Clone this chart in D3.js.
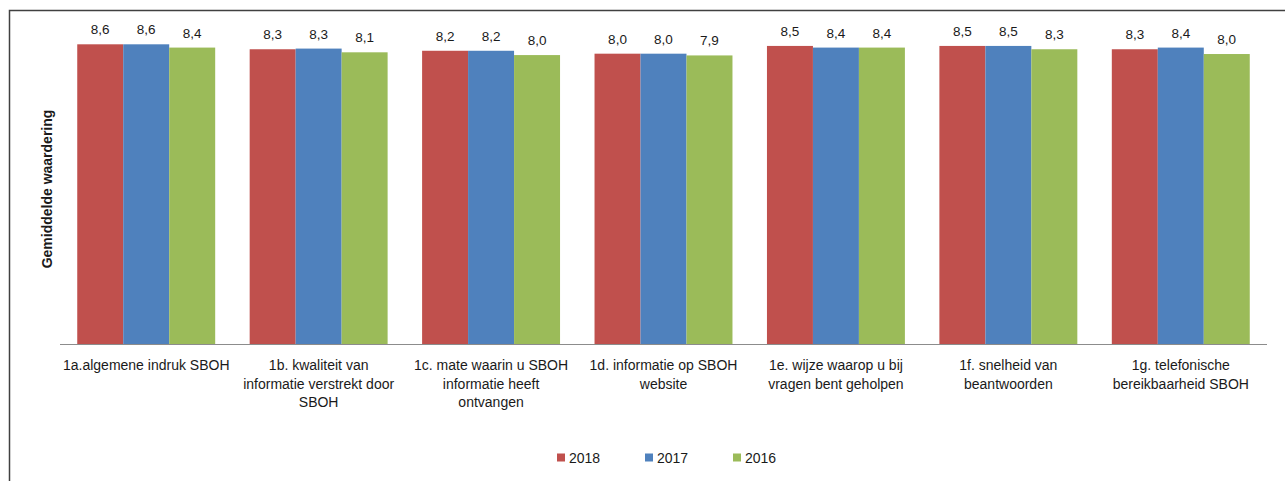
<!DOCTYPE html>
<html>
<head>
    <meta charset="utf-8">
    <title>Gemiddelde waardering</title>
    <script src="https://d3js.org/d3.v7.min.js"></script>
    <style>
        body { margin: 0; background: #fff; }
        text { font-family: 'Liberation Sans', Arial, sans-serif; fill: #1a1a1a; }
    </style>
</head>
<body>
<script>
    // categories, one array of lines per label (wrapped as in the original)
    var categories = ["1a", "1b", "1c", "1d", "1e", "1f", "1g"];
    var categoryLines = [
        ["1a.algemene indruk SBOH"],
        ["1b. kwaliteit van", "informatie verstrekt door", "SBOH"],
        ["1c. mate waarin u SBOH", "informatie heeft", "ontvangen"],
        ["1d. informatie op SBOH", "website"],
        ["1e. wijze waarop u bij", "vragen bent geholpen"],
        ["1f. snelheid van", "beantwoorden"],
        ["1g. telefonische", "bereikbaarheid SBOH"]
    ];
    var years = ["2018", "2017", "2016"];
    var values2018 = [8.60, 8.30, 8.21, 8.04, 8.50, 8.50, 8.30];
    var values2017 = [8.60, 8.34, 8.21, 8.04, 8.40, 8.50, 8.40];
    var values2016 = [8.40, 8.12, 7.96, 7.94, 8.40, 8.30, 8.02];
    var colors = ["#C0504D", "#4F81BD", "#9BBB59"];

    var width = 1285, height = 481;
    var series = [values2018, values2017, values2016];

    var svg = d3.select("body").append("svg")
        .attr("width", width)
        .attr("height", height);

    // outer frame (only left and top visible in the crop)
    svg.append("path")
        .attr("d", "M9.5,490V10.5H1300")
        .attr("fill", "none")
        .attr("stroke", "#404040")
        .attr("stroke-width", 1.5);

    var x0 = d3.scaleBand()
        .domain(categories)
        .range([60, 1267])
        .paddingInner(0.2)
        .paddingOuter(0.1);

    var x1 = d3.scaleBand()
        .domain(years)
        .range([0, x0.bandwidth()]);

    // the value axis is logarithmic (1 .. 10), hidden
    var y = d3.scaleLog()
        .domain([1, 10])
        .range([344, 23.3]);

    var rows = categories.map(function (c, i) {
        return years.map(function (yr, j) {
            return { cat: c, year: yr, value: series[j][i], color: colors[j] };
        });
    });

    var group = svg.selectAll(".group")
        .data(rows)
        .enter().append("g")
        .attr("class", "group")
        .attr("transform", function (d, i) { return "translate(" + x0(categories[i]) + ",0)"; });

    group.selectAll("rect")
        .data(function (d) { return d; })
        .enter().append("rect")
        .attr("x", function (d) { return x1(d.year); })
        .attr("width", x1.bandwidth())
        .attr("y", function (d) { return y(d.value); })
        .attr("height", function (d) { return y(1) - y(d.value); })
        .attr("fill", function (d) { return d.color; });

    group.selectAll(".lbl")
        .data(function (d) { return d; })
        .enter().append("text")
        .attr("class", "lbl")
        .attr("x", function (d) { return x1(d.year) + x1.bandwidth() / 2; })
        .attr("y", function (d) { return y(d.value) - 10; })
        .attr("text-anchor", "middle")
        .style("font-size", "13.5px")
        .text(function (d) { return d.value.toFixed(1).replace(".", ","); });

    // category axis
    svg.append("line")
        .attr("x1", 60).attr("x2", 1267)
        .attr("y1", 344.5).attr("y2", 344.5)
        .attr("stroke", "#8c8c8c")
        .attr("stroke-width", 1.2);

    svg.selectAll(".cat")
        .data(categoryLines)
        .enter().append("text")
        .attr("class", "cat")
        .attr("text-anchor", "middle")
        .style("font-size", "14px")
        .attr("transform", function (d, i) {
            return "translate(" + (x0(categories[i]) + x0.bandwidth() / 2) + ",370)";
        })
        .selectAll("tspan")
        .data(function (d) { return d; })
        .enter().append("tspan")
        .attr("x", 0)
        .attr("y", function (d, i) { return i * 18.7; })
        .text(function (d) { return d; });

    // y axis title
    svg.append("text")
        .attr("transform", "translate(52,189) rotate(-90)")
        .attr("text-anchor", "middle")
        .style("font-size", "14px")
        .style("font-weight", "bold")
        .text("Gemiddelde waardering");

    // legend
    var legend = svg.selectAll(".legend")
        .data(years)
        .enter().append("g")
        .attr("class", "legend")
        .attr("transform", function (d, i) { return "translate(" + (557 + i * 88) + ",0)"; });

    legend.append("rect")
        .attr("x", 0).attr("y", 453.5)
        .attr("width", 8).attr("height", 8)
        .attr("fill", function (d, i) { return colors[i]; });

    legend.append("text")
        .attr("x", 12).attr("y", 462.5)
        .style("font-size", "14px")
        .text(function (d) { return d; });
</script>
</body>
</html>
